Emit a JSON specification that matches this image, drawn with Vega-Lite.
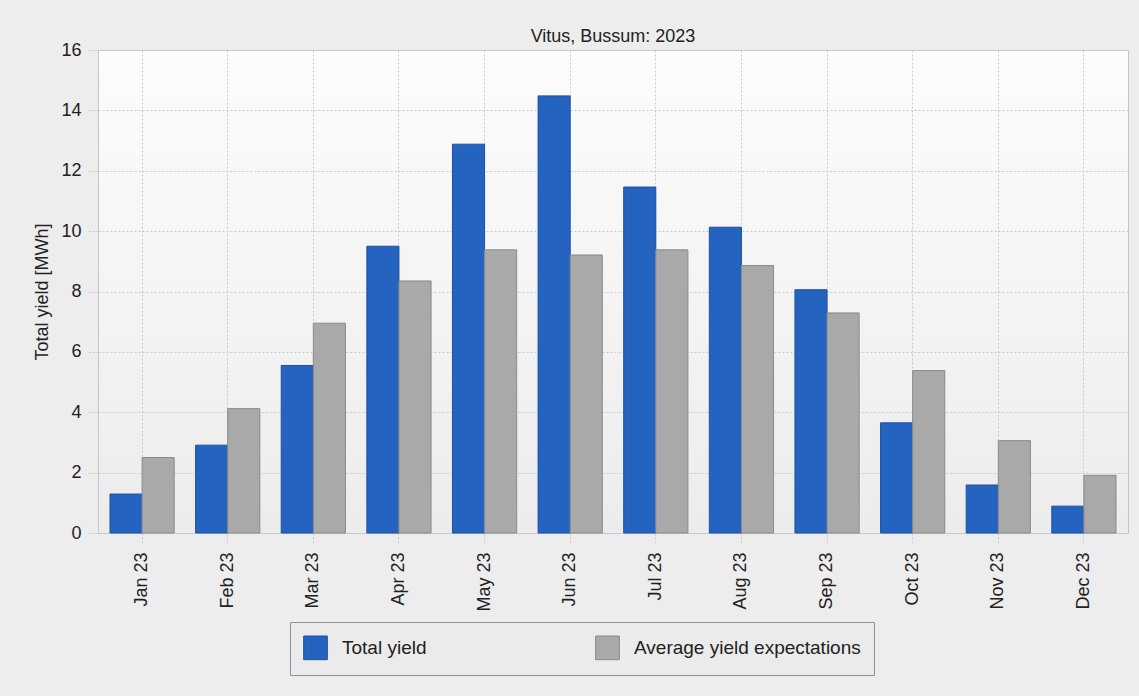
{
  "$schema": "https://vega.github.io/schema/vega-lite/v6.json",
  "width": 1030,
  "height": 483,
  "autosize": {"type": "none"},
  "padding": {"left": 98, "top": 50, "right": 11, "bottom": 163},
  "background": "#ededed",
  "title": {
    "text": "Vitus, Bussum: 2023",
    "font": "Liberation Sans",
    "fontSize": 18,
    "fontWeight": "normal",
    "color": "#222222",
    "anchor": "middle",
    "offset": -5
  },
  "data": {
    "values": [
      {"month": "Jan 23", "series": "Total yield", "value": 1.29},
      {"month": "Jan 23", "series": "Average yield expectations", "value": 2.5},
      {"month": "Feb 23", "series": "Total yield", "value": 2.91},
      {"month": "Feb 23", "series": "Average yield expectations", "value": 4.12},
      {"month": "Mar 23", "series": "Total yield", "value": 5.55},
      {"month": "Mar 23", "series": "Average yield expectations", "value": 6.95},
      {"month": "Apr 23", "series": "Total yield", "value": 9.5},
      {"month": "Apr 23", "series": "Average yield expectations", "value": 8.35},
      {"month": "May 23", "series": "Total yield", "value": 12.88},
      {"month": "May 23", "series": "Average yield expectations", "value": 9.38},
      {"month": "Jun 23", "series": "Total yield", "value": 14.48},
      {"month": "Jun 23", "series": "Average yield expectations", "value": 9.21},
      {"month": "Jul 23", "series": "Total yield", "value": 11.46},
      {"month": "Jul 23", "series": "Average yield expectations", "value": 9.38},
      {"month": "Aug 23", "series": "Total yield", "value": 10.13},
      {"month": "Aug 23", "series": "Average yield expectations", "value": 8.86},
      {"month": "Sep 23", "series": "Total yield", "value": 8.06},
      {"month": "Sep 23", "series": "Average yield expectations", "value": 7.29},
      {"month": "Oct 23", "series": "Total yield", "value": 3.65},
      {"month": "Oct 23", "series": "Average yield expectations", "value": 5.38},
      {"month": "Nov 23", "series": "Total yield", "value": 1.59},
      {"month": "Nov 23", "series": "Average yield expectations", "value": 3.06},
      {"month": "Dec 23", "series": "Total yield", "value": 0.89},
      {"month": "Dec 23", "series": "Average yield expectations", "value": 1.91}
    ]
  },
  "mark": {"type": "bar", "strokeWidth": 1},
  "encoding": {
    "x": {
      "field": "month",
      "type": "nominal",
      "sort": null,
      "scale": {"paddingInner": 0.25, "paddingOuter": 0.14},
      "axis": {
        "title": null,
        "labelAngle": 270,
        "labelPadding": 9,
        "tickSize": 10,
        "bandPosition": 0.5
      }
    },
    "xOffset": {
      "field": "series",
      "type": "nominal",
      "sort": ["Total yield", "Average yield expectations"],
      "scale": {"paddingInner": 0, "paddingOuter": 0}
    },
    "y": {
      "field": "value",
      "type": "quantitative",
      "scale": {"domain": [0, 16], "nice": false},
      "axis": {
        "title": "Total yield [MWh]",
        "values": [0, 2, 4, 6, 8, 10, 12, 14, 16],
        "labelPadding": 7,
        "tickSize": 10,
        "titlePadding": 9
      }
    },
    "color": {
      "field": "series",
      "type": "nominal",
      "sort": ["Total yield", "Average yield expectations"],
      "scale": {
        "domain": ["Total yield", "Average yield expectations"],
        "range": ["#2563c0", "#a9a9a9"]
      },
      "legend": {
        "title": null,
        "orient": "none",
        "legendX": 192,
        "legendY": 572,
        "direction": "horizontal",
        "symbolType": "square",
        "symbolSize": 560,
        "symbolStrokeWidth": 1,
        "symbolOpacity": 1,
        "labelOffset": 14,
        "labelLimit": 400,
        "columnPadding": 166,
        "padding": 13,
        "strokeColor": "#8a9299",
        "fillColor": "#ebebeb",
        "labelFont": "Liberation Sans",
        "labelFontSize": 19,
        "labelColor": "#222222"
      }
    },
    "stroke": {
      "field": "series",
      "type": "nominal",
      "scale": {
        "domain": ["Total yield", "Average yield expectations"],
        "range": ["#1d50a3", "#8a8a8a"]
      },
      "legend": null
    }
  },
  "config": {
    "view": {
      "stroke": "#c3c7cc",
      "fill": {
        "gradient": "linear",
        "x1": 0, "y1": 0, "x2": 0, "y2": 1,
        "stops": [
          {"offset": 0, "color": "#fcfcfc"},
          {"offset": 1, "color": "#ececec"}
        ]
      }
    },
    "axis": {
      "domain": false,
      "grid": true,
      "gridColor": "#c5cad0",
      "gridDash": [2, 2],
      "gridWidth": 1,
      "tickColor": "#c5cad0",
      "tickDash": [2, 2],
      "labelFont": "Liberation Sans",
      "labelFontSize": 18,
      "labelColor": "#222222",
      "titleFont": "Liberation Sans",
      "titleFontSize": 18,
      "titleFontWeight": "normal",
      "titleColor": "#222222"
    }
  }
}
